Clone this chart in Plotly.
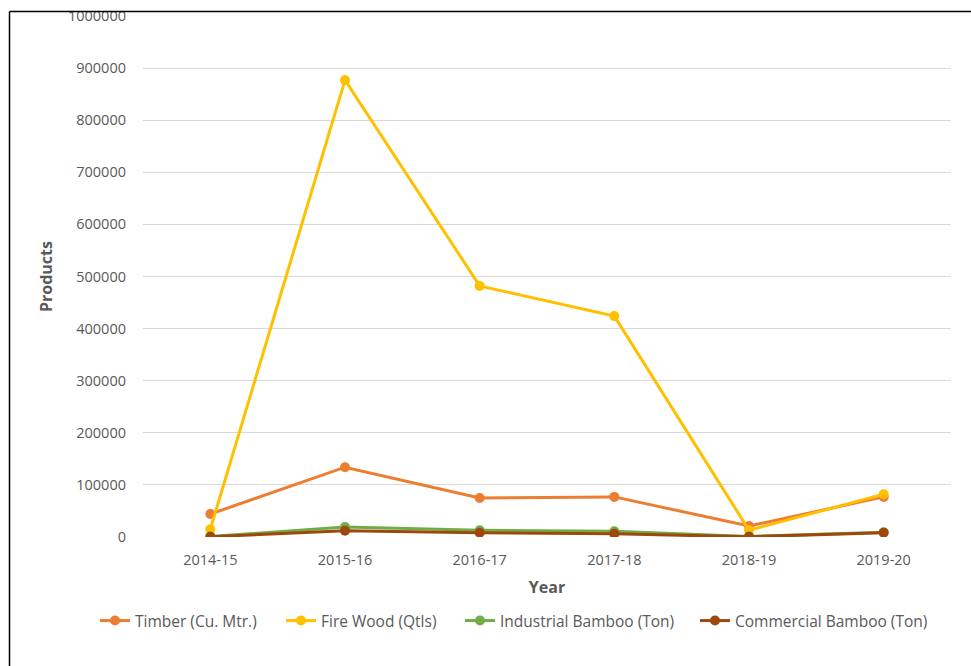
import plotly.graph_objects as go

years = ["2014-15", "2015-16", "2016-17", "2017-18", "2018-19", "2019-20"]
timber = [44000, 134000, 75000, 77000, 21000, 77000]
fire_wood = [15000, 877000, 482000, 424000, 13000, 82000]
industrial_bamboo = [1000, 19000, 13000, 11000, 1000, 9000]
commercial_bamboo = [500, 12000, 8000, 6000, 500, 8000]

series = [
    ("Timber (Cu. Mtr.)", timber, "#ED7D31"),
    ("Fire Wood (Qtls)", fire_wood, "#FFC000"),
    ("Industrial Bamboo (Ton)", industrial_bamboo, "#70AD47"),
    ("Commercial Bamboo (Ton)", commercial_bamboo, "#9E480E"),
]
# left edge (px) of each legend entry along the bottom row
legend_left_px = [95, 281, 460, 695]

W, H = 971, 666
L, R, T, B = 143, 20, 16, 129
pw, ph = W - L - R, H - T - B

def px_x(px):
    return (px - L) / pw

def px_y(py):
    return (H - B - py) / ph

font_family = "Open Sans, Lato, sans-serif"
grey = "#595959"

fig = go.Figure()
legend_layouts = {}
for i, (name, vals, color) in enumerate(series):
    key = "legend" if i == 0 else f"legend{i + 1}"
    fig.add_trace(go.Scatter(
        x=years, y=vals, name=name, mode="lines+markers",
        line=dict(color=color, width=3),
        marker=dict(color=color, size=10),
        legend=key,
    ))
    legend_layouts[key] = dict(
        orientation="h", x=px_x(legend_left_px[i]), xanchor="left",
        y=px_y(621), yanchor="middle",
        font=dict(size=15.5, color=grey), bgcolor="rgba(0,0,0,0)",
    )

fig.update_layout(
    width=W, height=H,
    margin=dict(l=L, r=R, t=T, b=B, pad=0, autoexpand=False),
    plot_bgcolor="white", paper_bgcolor="white",
    font=dict(family=font_family, size=14, color=grey),
    showlegend=True,
    xaxis=dict(range=[-0.5, 5.5], showgrid=False, showline=False, zeroline=False,
               ticks="", ticklabelstandoff=12,
               tickfont=dict(size=14.5, color=grey),
               title=dict(text="<b>Year</b>", font=dict(size=16, color=grey),
                          standoff=14)),
    yaxis=dict(range=[0, 1000000], dtick=100000, showgrid=True,
               gridcolor="#d9d9d9", gridwidth=1, zeroline=False,
               showline=False, ticks="", tickformat="d", ticklabelstandoff=16,
               tickfont=dict(size=14.5, color=grey),
               title=dict(text="<b>Products</b>", font=dict(size=16, color=grey),
                          standoff=11)),
    shapes=[
        dict(type="line", xref="paper", yref="paper",
             x0=px_x(9.5), x1=px_x(W + 2), y0=px_y(11.5), y1=px_y(11.5),
             line=dict(color="black", width=1.5)),
        dict(type="line", xref="paper", yref="paper",
             x0=px_x(9.5), x1=px_x(9.5), y0=px_y(11.5), y1=px_y(H + 2),
             line=dict(color="black", width=1.5)),
    ],
    **legend_layouts,
)

fig.write_html("out.html")
